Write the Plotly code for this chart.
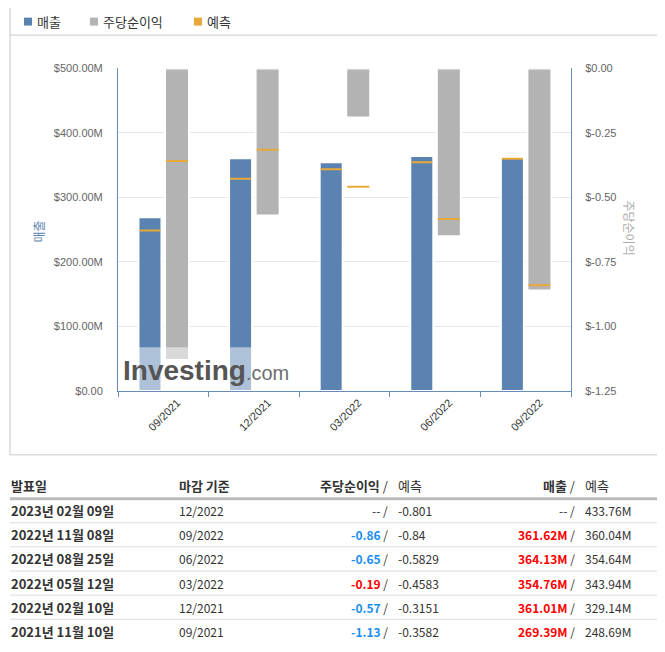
import plotly.graph_objects as go

# --- data (table order: newest first) ---
release_dates = ["2023년 02월 09일", "2022년 11월 08일", "2022년 08월 25일",
                 "2022년 05월 12일", "2022년 02월 10일", "2021년 11월 10일"]
period_end = ["12/2022", "09/2022", "06/2022", "03/2022", "12/2021", "09/2021"]
eps_actual = [None, -0.86, -0.65, -0.19, -0.57, -1.13]
eps_forecast = [-0.801, -0.84, -0.5829, -0.4583, -0.3151, -0.3582]
rev_actual = [None, 361.62, 364.13, 354.76, 361.01, 269.39]      # M
rev_forecast = [433.76, 360.04, 354.64, 343.94, 329.14, 248.69]  # M

rev_tickvals = [0, 100e6, 200e6, 300e6, 400e6, 500e6]
rev_ticktext = ["$0.00", "$100.00M", "$200.00M", "$300.00M", "$400.00M", "$500.00M"]
eps_tickvals = [0, -0.25, -0.5, -0.75, -1.0, -1.25]
eps_ticktext = ["$0.00", "$-0.25", "$-0.50", "$-0.75", "$-1.00", "$-1.25"]
legend_names = ["매출", "주당순이익", "예측"]

# page is 665x652, body has 8px margin -> figure is 649x636
M = 8
W, H = 665 - 2 * M, 652 - 2 * M
BLUE = "#5b83b1"
GREY = "#b3b3b3"
ORANGE = "#e8a83a"
AXIS = "#6a8cbc"
FONT = "Arial, Liberation Sans, sans-serif"
KFONT = "Noto Sans CJK KR, sans-serif"
BLUE_TXT = "#1a8ef0"
RED_TXT = "#ff0000"


def px_x(v):
    # target pixel -> paper fraction
    return (v - M) / W


def px_y(v):
    # the captured page comes out shifted/squeezed vertically a bit, compensate
    page = (v - 6.0) / 0.984
    return 1 - (page - M) / H


# chart uses reported quarters, oldest first
idx = [i for i in range(len(period_end)) if eps_actual[i] is not None][::-1]
periods = [period_end[i] for i in idx]
rev = [rev_actual[i] * 1e6 for i in idx]
rev_f = [rev_forecast[i] * 1e6 for i in idx]
eps = [eps_actual[i] for i in idx]
eps_f = [eps_forecast[i] for i in idx]

rev_line = 3.1e6     # ~2px thick forecast mark on left axis
eps_line = 0.0078    # ~2px on right axis

fig = go.Figure()
fig.add_trace(go.Bar(x=periods, y=rev, name=legend_names[0], marker_color=BLUE,
                     marker_line=dict(color="white", width=2),
                     offset=-0.274, width=0.254, yaxis="y"))
fig.add_trace(go.Bar(x=periods, y=eps, name=legend_names[1], marker_color=GREY,
                     marker_line=dict(color="white", width=2),
                     offset=0.019, width=0.265, yaxis="y2"))
fig.add_trace(go.Bar(x=periods, y=[rev_line] * len(rev_f),
                     base=[v - rev_line / 2 for v in rev_f], name=legend_names[2],
                     marker_color=ORANGE, marker_line_width=0,
                     offset=-0.263, width=0.232, yaxis="y"))
fig.add_trace(go.Bar(x=periods, y=[eps_line] * len(eps_f),
                     base=[v - eps_line / 2 for v in eps_f], name=legend_names[2],
                     marker_color=ORANGE, marker_line_width=0,
                     offset=0.03, width=0.243, yaxis="y2"))

shapes = [
    dict(type="rect", xref="paper", yref="paper", x0=px_x(10), x1=px_x(660),
         y0=px_y(456), y1=px_y(6), line=dict(color="#c8c8c8", width=1)),
    dict(type="line", xref="paper", yref="paper", x0=px_x(10), x1=px_x(660),
         y0=px_y(35), y1=px_y(35), line=dict(color="#c8c8c8", width=1)),
    # watermark backdrop
    dict(type="rect", xref="paper", yref="paper", x0=px_x(118), x1=px_x(290),
         y0=px_y(392), y1=px_y(348), fillcolor="rgba(255,255,255,0.5)",
         line_width=0, layer="above"),
    # table header rule
    dict(type="line", xref="paper", yref="paper", x0=px_x(10), x1=px_x(660),
         y0=px_y(500), y1=px_y(500), line=dict(color="#bbbbbb", width=3)),
]

annotations = [
    dict(text="매출", x=px_x(38), y=px_y(232), xref="paper", yref="paper",
         xanchor="center", yanchor="middle",
         showarrow=False, textangle=-90, font=dict(family=KFONT, size=12, color=BLUE)),
    dict(text="주당순이익", x=px_x(629), y=px_y(228), xref="paper", yref="paper",
         xanchor="center", yanchor="middle",
         showarrow=False, textangle=90, font=dict(family=KFONT, size=12, color="#aaaaaa")),
    dict(text="<b>Investing</b><span style='color:#6e6e6e;font-size:20px'>.com</span>",
         x=px_x(121), y=px_y(371), xref="paper", yref="paper", xanchor="left",
         yanchor="middle", showarrow=False,
         font=dict(family=FONT, size=28, color="#555555")),
]

# legend drawn by hand (small squares like the original)
for name, color, sx in zip(legend_names, [BLUE, GREY, ORANGE], [24, 90, 194]):
    shapes.append(dict(type="rect", xref="paper", yref="paper", x0=px_x(sx),
                       x1=px_x(sx + 8), y0=px_y(25.5), y1=px_y(17.5),
                       fillcolor=color, line_width=0))
    annotations.append(dict(text=name, x=px_x(sx + 12), y=px_y(21), xref="paper",
                            yref="paper", xanchor="left", yanchor="middle",
                            showarrow=False, borderpad=0,
                            font=dict(family=KFONT, size=13, color="#333333")))

# --- table (text annotations + rules) ---
ROW0, ROWH = 512, 24.2
HEAD_Y = 487
col_x = {"date": 10, "period": 178, "eps": 389, "eps_f": 397, "rev": 576, "rev_f": 584}


def cell(text, key, yy, anchor, size=12, color="#333333"):
    annotations.append(dict(text=text, x=px_x(col_x[key]), y=px_y(yy), xref="paper",
                            yref="paper", xanchor=anchor, yanchor="middle",
                            showarrow=False, borderpad=0,
                            font=dict(family=KFONT, size=size, color=color)))


cell("<b>발표일</b>", "date", HEAD_Y, "left", 13)
cell("<b>마감 기준</b>", "period", HEAD_Y, "left", 13)
cell("<b>주당순이익</b> /", "eps", HEAD_Y, "right", 13)
cell("예측", "eps_f", HEAD_Y, "left", 13)
cell("<b>매출</b> /", "rev", HEAD_Y, "right", 13)
cell("예측", "rev_f", HEAD_Y, "left", 13)


def colored(actual, forecast, text):
    if actual is None:
        return "-- /"
    c = RED_TXT if actual > forecast else BLUE_TXT
    return "<span style='color:%s'><b>%s</b></span> /" % (c, text)


for r in range(len(release_dates)):
    yy = ROW0 + ROWH * r
    cell("<b>%s</b>" % release_dates[r], "date", yy, "left", 13)
    cell(period_end[r], "period", yy, "left")
    a = eps_actual[r]
    cell(colored(a, eps_forecast[r], "%.2f" % a if a is not None else ""), "eps", yy, "right")
    cell("%g" % eps_forecast[r], "eps_f", yy, "left")
    a = rev_actual[r]
    cell(colored(a, rev_forecast[r], "%.2fM" % a if a is not None else ""), "rev", yy, "right")
    cell("%.2fM" % rev_forecast[r], "rev_f", yy, "left")
    if r > 0:
        ly = ROW0 - ROWH / 2 + ROWH * r
        shapes.append(dict(type="line", xref="paper", yref="paper", x0=px_x(10),
                           x1=px_x(660), y0=px_y(ly), y1=px_y(ly),
                           line=dict(color="#dddddd", width=1)))

fig.update_layout(
    width=W, height=H,
    margin=dict(l=0, r=0, t=0, b=0),
    paper_bgcolor="white", plot_bgcolor="white",
    barmode="overlay",
    font=dict(family=FONT, size=11, color="#666666"),
    showlegend=False,
    xaxis=dict(type="category", domain=[px_x(118), px_x(571)], anchor="y",
               showline=True, linecolor=AXIS, linewidth=1,
               ticks="outside", tickson="boundaries", ticklen=5, tickcolor=AXIS,
               tickangle=-45, ticklabelshift=14,
               tickfont=dict(family=FONT, size=11, color="#333333"),
               showgrid=False),
    yaxis=dict(domain=[px_y(392), px_y(68.5)], range=[0, 500e6], anchor="x",
               tickvals=rev_tickvals, ticktext=rev_ticktext,
               showgrid=True, gridcolor="#e8e8e8", zeroline=False,
               showline=True, linecolor=AXIS, ticklabelstandoff=12,
               tickfont=dict(family=FONT, size=11, color="#666666")),
    yaxis2=dict(overlaying="y", side="right", anchor="x", range=[-1.25, 0],
                tickvals=eps_tickvals, ticktext=eps_ticktext,
                showgrid=False, zeroline=False,
                showline=True, linecolor=AXIS, ticklabelstandoff=11,
                tickfont=dict(family=FONT, size=11, color="#666666")),
    shapes=shapes,
    annotations=annotations,
)

fig.write_html("out.html", config={"displayModeBar": False})
